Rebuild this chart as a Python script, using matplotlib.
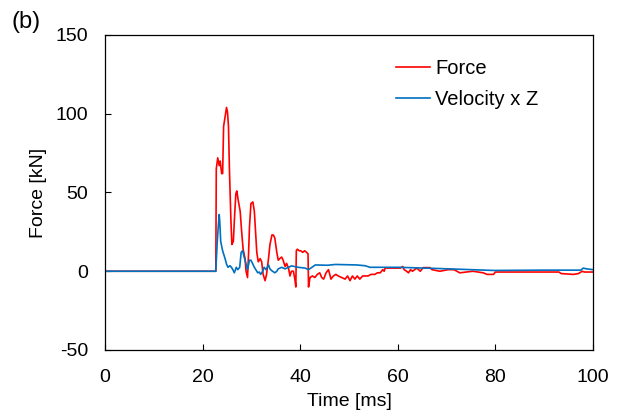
import matplotlib
matplotlib.use("Agg")
import matplotlib.pyplot as plt

plt.rcParams["font.family"] = ["Liberation Sans", "DejaVu Sans"]
plt.rcParams["axes.unicode_minus"] = False  # reference uses a plain hyphen in "-50"

# values (time in ms, force in kN)
force_t = [0, 22.7, 22.8, 23.1, 23.4, 23.6, 23.9, 24.1, 24.3, 24.5, 24.7, 24.9,
           25.1, 25.3, 25.5, 25.8, 26.0, 26.3, 26.5, 26.8, 27.0, 27.3, 27.7, 28.0,
           28.3, 28.7, 28.9, 29.2, 29.4, 29.6, 29.9, 30.3, 30.6, 30.9, 31.1, 31.4,
           31.8, 32.1, 32.4, 32.8, 33.1, 33.5, 33.8, 34.2, 34.5, 34.8, 35.2, 35.5,
           35.8, 36.2, 36.5, 36.9, 37.2, 37.6, 37.9, 38.2, 38.6, 38.9, 39.1, 39.2,
           39.4, 39.8, 40.1, 40.5, 40.9, 41.3, 41.6, 41.7, 42.0, 42.5, 43.0, 43.5,
           44.0, 44.4, 44.8, 45.3, 45.8, 46.3, 46.8, 47.3, 47.8, 48.5, 49.2, 49.7,
           50.2, 50.7, 51.2, 51.7, 52.2, 52.8, 53.3, 53.9, 54.5, 55.3, 55.8, 56.4,
           56.9, 57.2, 57.4, 58.0, 58.9, 59.8, 60.5, 61.0, 61.3, 61.8, 62.2, 62.6,
           63.0, 63.9, 64.6, 65.2, 66.6, 67.0, 68.6, 70.3, 71.5, 72.7, 75.4, 77.5,
           78.3, 79.6, 80.0, 82.0, 93.0, 93.5, 96.0, 97.0, 97.8, 98.2, 100]
force_kn = [0, 0, 65, 72, 67, 70, 62, 62, 92, 96, 100, 104,
            101, 92, 64, 32, 17, 19, 32, 49, 51, 45, 38, 25,
            14, 8, 0, -4, 10, 28, 43, 44, 38, 23, 12, 6,
            8, 6, -2, -6, -2, 8, 17, 23, 23, 21, 12, 7,
            8, 9, 7, 3, 5, 2, -3, 0, 0, -5, -10, 13,
            14, 13, 13, 12, 13, 12, 11, -10, -4, -3, -4, -2,
            -1, -4, -5, -1, 1, -5, -3, -2, -3, -4, -5, -3,
            -6, -3, -5, -3, -5, -3, -3, -3, -2, -2, -1, -1,
            1, 0, 2, 2, 2, 2, 2, 3, 1, 0, -1, 1,
            0, 2, 0, 2.3, 2.3, 1, 0, 1, 1, -1, 0, -1,
            -2, -2, -0.5, -0.5, -0.5, -1.5, -2, -1.5, 0, -0.5, -0.5]

vel_t = [0, 22.7, 23.0, 23.2, 23.4, 23.5, 23.6, 23.7, 23.9, 24.1, 24.3, 24.6,
         24.9, 25.2, 25.6, 25.9, 26.2, 26.5, 26.9, 27.2, 27.6, 27.9, 28.2, 28.6,
         28.9, 29.2, 29.6, 29.9, 30.3, 30.6, 30.9, 31.3, 31.6, 31.9, 32.3, 32.6,
         33.0, 33.5, 33.8, 34.1, 34.8, 35.2, 35.5, 36.2, 36.9, 37.6, 38.2, 39.6,
         41.0, 41.7, 43.1, 45.6, 47.2, 51.5, 53.3, 54.3, 60.0, 68.6, 79.6, 90.0,
         97.5, 98.0, 98.7, 100]
vel_kn = [0, 0, 19, 28, 36, 32, 26, 19, 16, 13, 11, 8,
          4.5, 2.5, 3.5, 2.5, 1, -1, 2.5, 1, 2.5, 12, 13, 8,
          4.5, 1, 7, 7, 4.5, 2.5, 1, -1, -0.5, -2, 0, 2.5,
          1, 4, 1.5, 0.5, -1, 0, 1.5, 2.5, 1.5, 2.5, 3.4, 2.5,
          2, 1, 4, 3.8, 4.3, 4, 3.5, 2.5, 2.5, 1.7, 0.5, 0.7,
          0.7, 2, 1.5, 1]

x_ticks = [0, 20, 40, 60, 80, 100]
y_ticks = [-50, 0, 50, 100, 150]

fig = plt.figure(figsize=(6.27, 4.19), dpi=100)
ax = fig.add_axes([0.1675, 0.1647, 0.7783, 0.7518])

ax.plot(force_t, force_kn, color="#FF0000", linewidth=1.2, label="Force")
ax.plot(vel_t, vel_kn, color="#0070C0", linewidth=1.2, label="Velocity x Z")

ax.set_xlim(0, 100)
ax.set_ylim(-50, 150)
ax.set_xticks(x_ticks)
ax.set_yticks(y_ticks)
ax.tick_params(direction="in", length=4.5, width=0.8, labelsize=14)
ax.tick_params(axis="x", pad=14)
ax.tick_params(axis="y", pad=12)
for sp in ax.spines.values():
    sp.set_linewidth(0.9)

ax.set_xlabel("Time [ms]", fontsize=14, labelpad=5)
ax.set_ylabel("Force [kN]", fontsize=14, labelpad=6)

ax.legend(loc="upper left", bbox_to_anchor=(0.6316, 0.858),
          bbox_transform=fig.transFigure, frameon=False, fontsize=14.5,
          handlelength=1.7, handletextpad=0.25, labelspacing=0.55,
          borderpad=0, borderaxespad=0)

fig.text(0.018, 0.934, "(b)", fontsize=17)

fig.savefig("out.png", dpi=100)
